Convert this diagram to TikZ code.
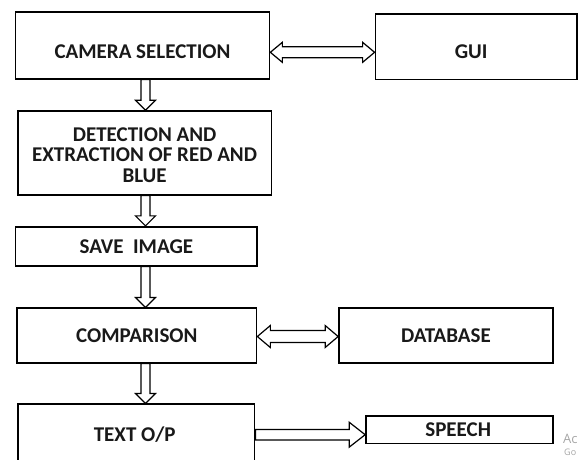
\documentclass[tikz,border=0pt]{standalone}
\usepackage{fontspec}
\setmainfont{Carlito}
\newfontfamily\wmfont{Open Sans}
\usetikzlibrary{calc}
\newcommand{\downarr}[2]{%
  \path[arr] let \p1=(#1.south -| ax), \p2=(#2.north -| ax) in
    (\x1-4.5pt,\y1) -- (\x1-4.5pt,\y2+10pt) -- (\x1-10pt,\y2+10pt) -- (\x1,\y2)
    -- (\x1+10pt,\y2+10pt) -- (\x1+4.5pt,\y2+10pt) -- (\x1+4.5pt,\y1) -- cycle;}
% #1 from, #2 to, #3 row coordinate, #4 shaft half, #5 head half, #6 head length
\newcommand{\dblarr}[6]{%
  \path[arr] let \p1=(#1.east |- #3), \p2=(#2.west |- #3) in
    (\x1,\y1) -- (\x1+#6,\y1+#5) -- (\x1+#6,\y1+#4) -- (\x2-#6,\y1+#4)
    -- (\x2-#6,\y1+#5) -- (\x2,\y1) -- (\x2-#6,\y1-#5) -- (\x2-#6,\y1-#4)
    -- (\x1+#6,\y1-#4) -- (\x1+#6,\y1-#5) -- cycle;}
\newcommand{\sglarr}[6]{%
  \path[arr] let \p1=(#1.east |- #3), \p2=(#2.west |- #3) in
    (\x1,\y1+#4) -- (\x2-#6,\y1+#4) -- (\x2-#6,\y1+#5) -- (\x2,\y1)
    -- (\x2-#6,\y1-#5) -- (\x2-#6,\y1-#4) -- (\x1,\y1-#4) -- cycle;}
\begin{document}
\begin{tikzpicture}[x=1pt,y=-1pt,
  box/.style={draw=black, line width=1.7pt, inner sep=0pt},
  lbl/.style={font=\fontsize{21}{20.5}\selectfont\bfseries, text=black!90, align=center, inner sep=0pt},
  arr/.style={draw=black, line width=1.2pt, fill=white, line join=miter},
  wm/.style={font=\wmfont\fontsize{13}{13}\selectfont, text=black!35, anchor=west, inner sep=0pt}]
\useasboundingbox (0,0) rectangle (584,459);
\begin{scope}
\clip (0,0) rectangle (584,459);
\coordinate (ax) at (145.5,0);
\coordinate (r1) at (0,52.3);
\coordinate (r2) at (0,336.5);
\coordinate (r3) at (0,434.7);

\node[box, minimum width=254pt, minimum height=66.4pt,
  label={[lbl,yshift=-6pt]center:CAMERA SELECTION}] (cam) at (142.5,45.5) {};
\node[box, minimum width=201.5pt, minimum height=65.3pt,
  label={[lbl,xshift=-5pt,yshift=-5pt]center:GUI}] (gui) at (476.2,46.7) {};
\node[box, minimum width=253.6pt, minimum height=83.7pt,
  label={[lbl,yshift=-2pt]center:DETECTION AND\\EXTRACTION OF RED AND\\BLUE}] (det) at (144.6,152.9) {};
\node[box, minimum width=241.6pt, minimum height=39pt,
  label={[lbl]center:SAVE\ \ IMAGE}] (save) at (136.4,246.2) {};
\node[box, minimum width=239.4pt, minimum height=54.4pt,
  label={[lbl]center:COMPARISON}] (comp) at (136.8,335.5) {};
\node[box, minimum width=213.8pt, minimum height=54.4pt,
  label={[lbl]center:DATABASE}] (db) at (445.9,335.5) {};
\node[box, minimum width=236.8pt, minimum height=61.4pt,
  label={[lbl,xshift=-1.5pt]center:TEXT O/P}] (txt) at (136.2,435) {};
\node[box, minimum width=187pt, minimum height=27.3pt,
  label={[lbl,xshift=-1.3pt]center:SPEECH}] (sp) at (459.5,429.7) {};

\downarr{cam}{det}
\downarr{det}{save}
\downarr{save}{comp}
\downarr{comp}{txt}
\dblarr{cam}{gui}{r1}{5.5pt}{10pt}{12pt}
\dblarr{comp}{db}{r2}{6pt}{11pt}{13pt}
\sglarr{txt}{sp}{r3}{5.3pt}{12.5pt}{16pt}

\node[wm] (wm1) at (563,439) {Ac};
\node[wm, font=\wmfont\fontsize{9}{9}\selectfont] (wm2) at (564,452) {Go};
\end{scope}
\end{tikzpicture}
\end{document}
